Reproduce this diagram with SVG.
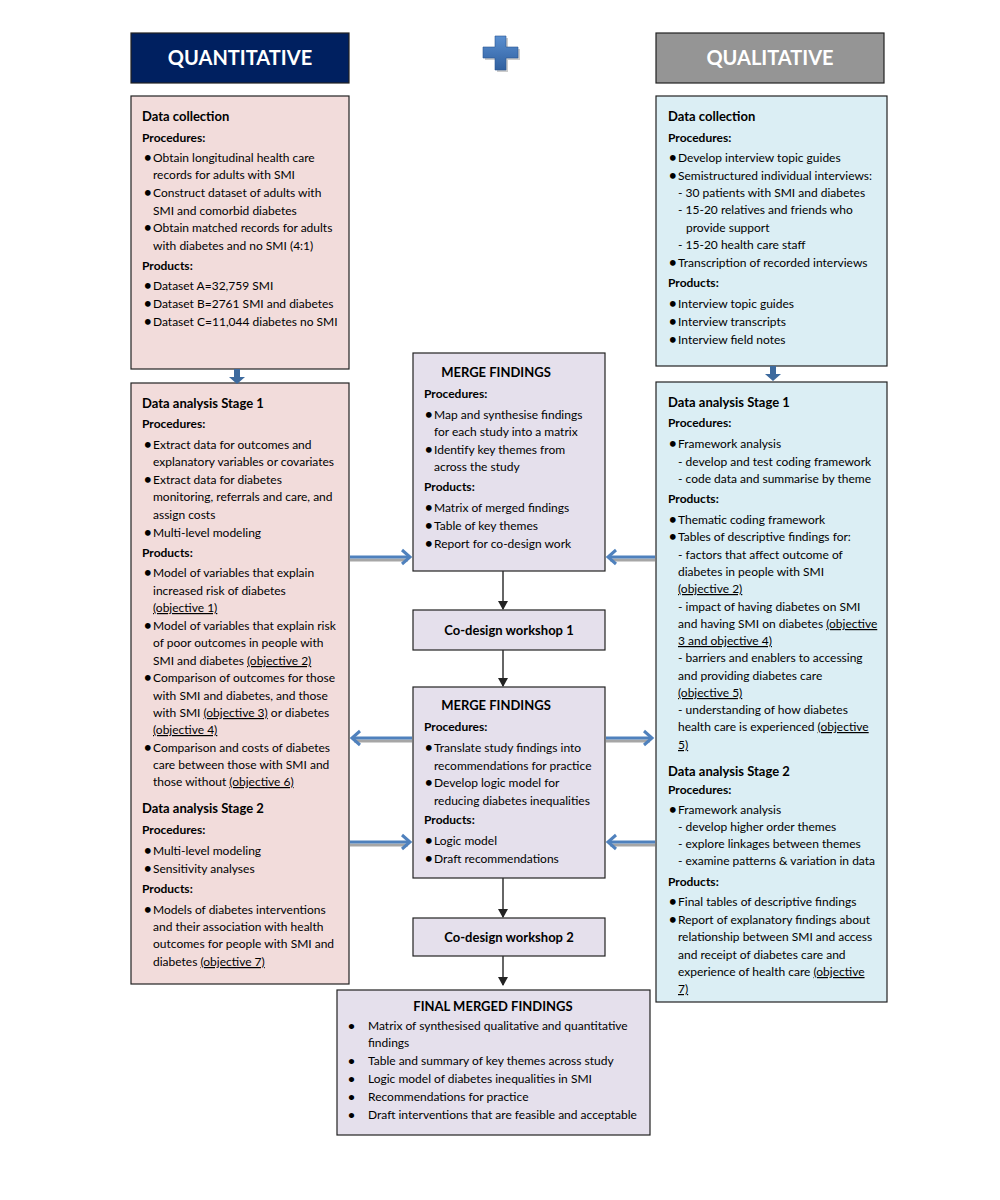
<svg xmlns="http://www.w3.org/2000/svg" width="1000" height="1200" viewBox="0 0 1000 1200">
<style>
text{font-family:Lato,"Open Sans","Liberation Sans",sans-serif;font-size:12px;fill:#000}
.bt{font-size:13px;font-weight:bold}
.bs{font-size:12px;font-weight:bold}
.b{font-weight:bold}
.h{font-weight:bold;font-size:13px}
.hd{font-weight:bold;font-size:20px;fill:#fff;text-anchor:middle}
.c{text-anchor:middle}
.u{text-decoration:underline}
.box{stroke:#222;stroke-width:1.2}
.pk{fill:#f2dcdb}.bl{fill:#dbeef4}.lv{fill:#e5e0ec}
.blk{stroke:#333;stroke-width:1.5;fill:none}
.sh{stroke:#a6a6a6;stroke-width:3;fill:none}
.ba{stroke:#4f81bd;stroke-width:3;fill:none;stroke-linejoin:miter}
</style>
<defs>
<linearGradient id="pg" x1="0" y1="0" x2="0" y2="1"><stop offset="0" stop-color="#5a8fd0"/><stop offset="1" stop-color="#2f5f9f"/></linearGradient>
<marker id="ah" markerWidth="10" markerHeight="10" refX="8" refY="5" orient="auto" markerUnits="userSpaceOnUse"><path d="M0,0 L9,5 L0,10 z" fill="#222"/></marker>
</defs>
<rect width="1000" height="1200" fill="#fff"/>

<g id="quant-header"><rect x="131" y="33" width="218" height="50" fill="#002060" class="box"/><text x="240" y="65" class="hd">QUANTITATIVE</text></g>
<g id="plus"><path d="M497,38 h11 v11 h12 v11 h-12 v12 h-11 v-12 h-12 v-11 h12 z" fill="#999" opacity="0.5"/><path d="M495,36 h11 v11 h12 v11 h-12 v12 h-11 v-12 h-12 v-11 h12 z" fill="url(#pg)" stroke="#2a5590" stroke-width="0.6"/></g>
<g id="qual-header"><rect x="656" y="33" width="228" height="50" fill="#959595" class="box"/><text x="770" y="65" class="hd">QUALITATIVE</text></g>

<g id="quant-collection"><rect x="131" y="96" width="218" height="273" class="box pk"/>
<text x="142" y="121" class="h">Data collection</text>
<text x="142" y="142" class="b">Procedures:</text>
<text x="144" y="162" class="bt">•</text><text x="153" y="162">Obtain longitudinal health care</text>
<text x="153" y="179">records for adults with SMI</text>
<text x="144" y="197" class="bt">•</text><text x="153" y="197">Construct dataset of adults with</text>
<text x="153" y="215">SMI and comorbid diabetes</text>
<text x="144" y="232" class="bt">•</text><text x="153" y="232">Obtain matched records for adults</text>
<text x="153" y="250">with diabetes and no SMI (4:1)</text>
<text x="142" y="270" class="b">Products:</text>
<text x="144" y="290" class="bt">•</text><text x="153" y="290">Dataset A=32,759 SMI</text>
<text x="144" y="308" class="bt">•</text><text x="153" y="308">Dataset B=2761 SMI and diabetes</text>
<text x="144" y="326" class="bt">•</text><text x="153" y="326">Dataset C=11,044 diabetes no SMI</text>
</g>

<g id="quant-analysis"><rect x="131" y="383" width="218" height="601" class="box pk"/>
<text x="142" y="408" class="h">Data analysis Stage 1</text>
<text x="142" y="428" class="b">Procedures:</text>
<text x="144" y="449" class="bt">•</text><text x="153" y="449">Extract data for outcomes and</text>
<text x="153" y="466">explanatory variables or covariates</text>
<text x="144" y="484" class="bt">•</text><text x="153" y="484">Extract data for diabetes</text>
<text x="153" y="501">monitoring, referrals and care, and</text>
<text x="153" y="519">assign costs</text>
<text x="144" y="537" class="bt">•</text><text x="153" y="537">Multi-level modeling</text>
<text x="142" y="557" class="b">Products:</text>
<text x="144" y="577" class="bt">•</text><text x="153" y="577">Model of variables that explain</text>
<text x="153" y="595">increased risk of diabetes</text>
<text x="153" y="612"><tspan class="u">(objective 1)</tspan></text>
<text x="144" y="630" class="bt">•</text><text x="153" y="630">Model of variables that explain risk</text>
<text x="153" y="647">of poor outcomes in people with</text>
<text x="153" y="665">SMI and diabetes <tspan class="u">(objective 2)</tspan></text>
<text x="144" y="682" class="bt">•</text><text x="153" y="682">Comparison of outcomes for those</text>
<text x="153" y="700">with SMI and diabetes, and those</text>
<text x="153" y="717">with SMI <tspan class="u">(objective 3)</tspan> or diabetes</text>
<text x="153" y="734"><tspan class="u">(objective 4)</tspan></text>
<text x="144" y="752" class="bt">•</text><text x="153" y="752">Comparison and costs of diabetes</text>
<text x="153" y="769">care between those with SMI and</text>
<text x="153" y="786">those without <tspan class="u">(objective 6)</tspan></text>
<text x="142" y="813" class="h">Data analysis Stage 2</text>
<text x="142" y="834" class="b">Procedures:</text>
<text x="144" y="855" class="bt">•</text><text x="153" y="855">Multi-level modeling</text>
<text x="144" y="873" class="bt">•</text><text x="153" y="873">Sensitivity analyses</text>
<text x="142" y="893" class="b">Products:</text>
<text x="144" y="914" class="bt">•</text><text x="153" y="914">Models of diabetes interventions</text>
<text x="153" y="931">and their association with health</text>
<text x="153" y="948">outcomes for people with SMI and</text>
<text x="153" y="966">diabetes <tspan class="u">(objective 7)</tspan></text>
</g>

<g id="qual-collection"><rect x="656" y="96" width="231" height="270" class="box bl"/>
<text x="668" y="121" class="h">Data collection</text>
<text x="668" y="142" class="b">Procedures:</text>
<text x="669" y="162" class="bt">•</text><text x="678" y="162">Develop interview topic guides</text>
<text x="669" y="180" class="bt">•</text><text x="678" y="180">Semistructured individual interviews:</text>
<text x="678" y="197">- 30 patients with SMI and diabetes</text>
<text x="678" y="214">- 15-20 relatives and friends who</text>
<text x="686" y="232">provide support</text>
<text x="678" y="249">- 15-20 health care staff</text>
<text x="669" y="267" class="bt">•</text><text x="678" y="267">Transcription of recorded interviews</text>
<text x="668" y="287" class="b">Products:</text>
<text x="669" y="308" class="bt">•</text><text x="678" y="308">Interview topic guides</text>
<text x="669" y="326" class="bt">•</text><text x="678" y="326">Interview transcripts</text>
<text x="669" y="344" class="bt">•</text><text x="678" y="344">Interview field notes</text>
</g>

<g id="qual-analysis"><rect x="656" y="382" width="231" height="620" class="box bl"/>
<text x="668" y="407" class="h">Data analysis Stage 1</text>
<text x="668" y="427" class="b">Procedures:</text>
<text x="669" y="448" class="bt">•</text><text x="678" y="448">Framework analysis</text>
<text x="678" y="466">- develop and test coding framework</text>
<text x="678" y="483">- code data and summarise by theme</text>
<text x="668" y="503" class="b">Products:</text>
<text x="669" y="524" class="bt">•</text><text x="678" y="524">Thematic coding framework</text>
<text x="669" y="541" class="bt">•</text><text x="678" y="541">Tables of descriptive findings for:</text>
<text x="678" y="559">- factors that affect outcome of</text>
<text x="678" y="576">diabetes in people with SMI</text>
<text x="678" y="593"><tspan class="u">(objective 2)</tspan></text>
<text x="678" y="611">- impact of having diabetes on SMI</text>
<text x="678" y="628">and having SMI on diabetes <tspan class="u">(objective</tspan></text>
<text x="678" y="645"><tspan class="u">3 and objective 4)</tspan></text>
<text x="678" y="662">- barriers and enablers to accessing</text>
<text x="678" y="680">and providing diabetes care</text>
<text x="678" y="697"><tspan class="u">(objective 5)</tspan></text>
<text x="678" y="714">- understanding of how diabetes</text>
<text x="678" y="731">health care is experienced <tspan class="u">(objective</tspan></text>
<text x="678" y="749"><tspan class="u">5)</tspan></text>
<text x="668" y="776" class="h">Data analysis Stage 2</text>
<text x="668" y="794" class="b">Procedures:</text>
<text x="669" y="814" class="bt">•</text><text x="678" y="814">Framework analysis</text>
<text x="678" y="831">- develop higher order themes</text>
<text x="678" y="848">- explore linkages between themes</text>
<text x="678" y="865">- examine patterns &amp; variation in data</text>
<text x="668" y="886" class="b">Products:</text>
<text x="669" y="906" class="bt">•</text><text x="678" y="906">Final tables of descriptive findings</text>
<text x="669" y="924" class="bt">•</text><text x="678" y="924">Report of explanatory findings about</text>
<text x="678" y="941">relationship between SMI and access</text>
<text x="678" y="959">and receipt of diabetes care and</text>
<text x="678" y="976">experience of health care <tspan class="u">(objective</tspan></text>
<text x="678" y="993"><tspan class="u">7)</tspan></text>
</g>

<g id="merge1"><rect x="413" y="353" width="192" height="218" class="box lv"/>
<text x="496" y="377" class="h c">MERGE FINDINGS</text>
<text x="424" y="398" class="b">Procedures:</text>
<text x="425" y="419" class="bt">•</text><text x="434" y="419">Map and synthesise findings</text>
<text x="434" y="436">for each study into a matrix</text>
<text x="425" y="454" class="bt">•</text><text x="434" y="454">Identify key themes from</text>
<text x="434" y="471">across the study</text>
<text x="424" y="491" class="b">Products:</text>
<text x="425" y="512" class="bt">•</text><text x="434" y="512">Matrix of merged findings</text>
<text x="425" y="530" class="bt">•</text><text x="434" y="530">Table of key themes</text>
<text x="425" y="548" class="bt">•</text><text x="434" y="548">Report for co-design work</text>
</g>

<g id="codesign1"><rect x="413" y="610" width="192" height="40" class="box lv"/><text x="509" y="635" class="h c">Co-design workshop 1</text></g>

<g id="merge2"><rect x="413" y="687" width="192" height="191" class="box lv"/>
<text x="496" y="710" class="h c">MERGE FINDINGS</text>
<text x="424" y="731" class="b">Procedures:</text>
<text x="425" y="752" class="bt">•</text><text x="434" y="752">Translate study findings into</text>
<text x="434" y="770">recommendations for practice</text>
<text x="425" y="787" class="bt">•</text><text x="434" y="787">Develop logic model for</text>
<text x="434" y="805">reducing diabetes inequalities</text>
<text x="424" y="824" class="b">Products:</text>
<text x="425" y="845" class="bt">•</text><text x="434" y="845">Logic model</text>
<text x="425" y="863" class="bt">•</text><text x="434" y="863">Draft recommendations</text>
</g>

<g id="codesign2"><rect x="413" y="918" width="192" height="38" class="box lv"/><text x="509" y="942" class="h c">Co-design workshop 2</text></g>

<g id="final"><rect x="337" y="990" width="313" height="145" class="box lv"/>
<text x="493" y="1011" class="h c">FINAL MERGED FINDINGS</text>
<text x="348" y="1030" class="bs">•</text><text x="368" y="1030">Matrix of synthesised qualitative and quantitative</text>
<text x="368" y="1047">findings</text>
<text x="348" y="1065" class="bs">•</text><text x="368" y="1065">Table and summary of key themes across study</text>
<text x="348" y="1083" class="bs">•</text><text x="368" y="1083">Logic model of diabetes inequalities in SMI</text>
<text x="348" y="1101" class="bs">•</text><text x="368" y="1101">Recommendations for practice</text>
<text x="348" y="1119" class="bs">•</text><text x="368" y="1119">Draft interventions that are feasible and acceptable</text>
</g>

<g id="connectors">
<path d="M234,369 h6 v8 h5 l-8,7 l-8,-7 h5 z" fill="#3d6a9e"/>
<path d="M770,366 h6 v8 h5 l-8,7 l-8,-7 h5 z" fill="#3d6a9e"/>
<line x1="503" y1="571" x2="503" y2="609" class="blk" marker-end="url(#ah)"/>
<line x1="503" y1="650" x2="503" y2="686" class="blk" marker-end="url(#ah)"/>
<line x1="503" y1="878" x2="503" y2="917" class="blk" marker-end="url(#ah)"/>
<line x1="503" y1="956" x2="503" y2="985" class="blk" marker-end="url(#ah)"/>
<line x1="350" y1="560" x2="408" y2="560" class="sh"/><line x1="350" y1="557" x2="410" y2="557" class="ba"/><polyline points="402,550 410,557 402,564" class="ba"/>
<line x1="655" y1="560" x2="610" y2="560" class="sh"/><line x1="655" y1="557" x2="608" y2="557" class="ba"/><polyline points="616,550 608,557 616,564" class="ba"/>
<line x1="412" y1="741" x2="354" y2="741" class="sh"/><line x1="412" y1="738" x2="352" y2="738" class="ba"/><polyline points="360,731 352,738 360,745" class="ba"/>
<line x1="606" y1="741" x2="650" y2="741" class="sh"/><line x1="606" y1="738" x2="652" y2="738" class="ba"/><polyline points="644,731 652,738 644,745" class="ba"/>
<line x1="350" y1="845" x2="408" y2="845" class="sh"/><line x1="350" y1="842" x2="410" y2="842" class="ba"/><polyline points="402,835 410,842 402,849" class="ba"/>
<line x1="655" y1="845" x2="610" y2="845" class="sh"/><line x1="655" y1="842" x2="608" y2="842" class="ba"/><polyline points="616,835 608,842 616,849" class="ba"/>
</g>
</svg>
